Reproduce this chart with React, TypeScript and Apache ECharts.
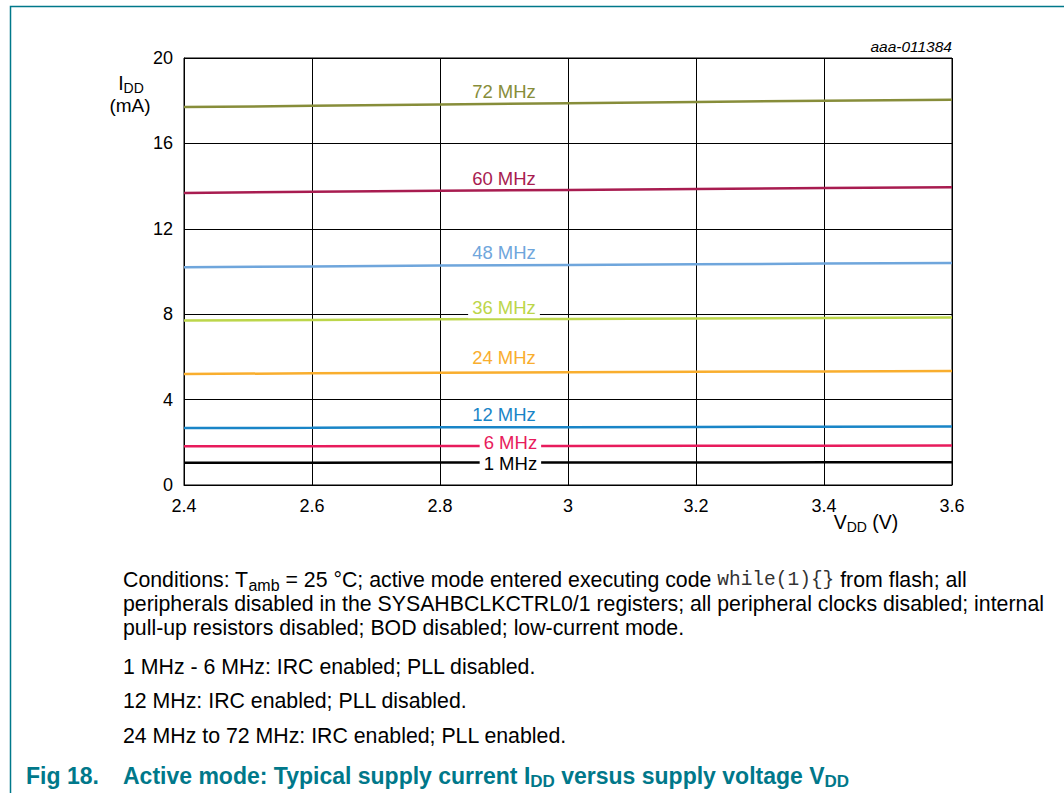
import React, { useEffect, useRef } from "react";
import * as echarts from "echarts";

const vdd = [2.4, 2.6, 2.8, 3.0, 3.2, 3.4, 3.6];
const xTicks = ["2.4", "2.6", "2.8", "3", "3.2", "3.4", "3.6"];
const yTicks = [0, 4, 8, 12, 16, 20];

const freqNames = ["72 MHz", "60 MHz", "48 MHz", "36 MHz", "24 MHz", "12 MHz", "6 MHz", "1 MHz"];
const idd72 = [17.7, 17.76, 17.82, 17.88, 17.94, 18.0, 18.05];
const idd60 = [13.68, 13.73, 13.78, 13.82, 13.87, 13.91, 13.95];
const idd48 = [10.2, 10.24, 10.28, 10.31, 10.34, 10.37, 10.4];
const idd36 = [7.7, 7.73, 7.76, 7.78, 7.8, 7.82, 7.84];
const idd24 = [5.2, 5.23, 5.26, 5.28, 5.3, 5.32, 5.34];
const idd12 = [2.67, 2.68, 2.7, 2.71, 2.72, 2.73, 2.74];
const idd6 = [1.82, 1.82, 1.83, 1.83, 1.84, 1.84, 1.85];
const idd1 = [1.04, 1.04, 1.05, 1.05, 1.05, 1.06, 1.06];
const seriesValues = [idd72, idd60, idd48, idd36, idd24, idd12, idd6, idd1];
const colors = ["#878d3a", "#a81c50", "#6fa6dc", "#bcd64a", "#f9ae2e", "#1985c7", "#e81b5c", "#000000"];
// label anchor positions (data coords)
const labelX = [2.9, 2.9, 2.9, 2.9, 2.9, 2.9, 2.91, 2.91];
const labelY = [18.42, 14.35, 10.88, 8.3, 5.95, 3.28, 1.97, 1.0];
const labelBg = [false, false, false, true, false, false, true, true];

const FONT = "'Liberation Sans', Arial, Helvetica, sans-serif";
const MONO = "'Liberation Mono', 'Courier New', monospace";
const TEAL = "#00788a";

export default function App() {
  const ref = useRef<HTMLDivElement>(null);
  useEffect(() => {
    document.body.style.margin = "0";
    const chart = echarts.init(ref.current!, null, { renderer: "svg" });
    const series: any[] = seriesValues.map((vals, i) => ({
      type: "line",
      name: freqNames[i],
      data: vals.map((v, j) => [vdd[j], v]),
      showSymbol: false,
      symbol: "none",
      lineStyle: { color: colors[i], width: 2.5 },
      z: 3,
      markPoint: {
        symbol: "rect",
        symbolSize: 0,
        silent: true,
        data: [
          {
            coord: [labelX[i], labelY[i]],
            label: {
              show: true,
              position: "inside",
              formatter: freqNames[i],
              color: colors[i],
              fontFamily: FONT,
              fontSize: 18.5,
              backgroundColor: labelBg[i] ? "#ffffff" : "transparent",
              padding: labelBg[i] ? [1, 4, 1, 4] : 0,
            },
          },
        ],
      },
    }));

    const P = 21.3;
    const textBase = { fontFamily: FONT, fontSize: P, fill: "#000" };
    const rich = {
      a: { fontFamily: FONT, fontSize: P, fill: "#000" },
      s: { fontFamily: FONT, fontSize: 16, fill: "#000", padding: [10, 0, 0, 0] },
      t: { fontFamily: FONT, fontSize: 23, fontWeight: "bold", fill: TEAL },
      ts: { fontFamily: FONT, fontSize: 17, fontWeight: "bold", fill: TEAL, padding: [10, 0, 0, 0] },
      y: { fontFamily: FONT, fontSize: 19.5, fill: "#000" },
      ys: { fontFamily: FONT, fontSize: 14, fill: "#000", padding: [9, 0, 0, 0] },
    };

    const graphic: any[] = [
      {
        type: "rect",
        shape: { x: 10.5, y: 6.5, width: 1200, height: 1000 },
        style: { fill: "none", stroke: TEAL, lineWidth: 1.5 },
        silent: true,
      },
      {
        type: "text",
        x: 952,
        y: 46,
        style: { text: "aaa-011384", fontFamily: FONT, fontSize: 15.5, fontStyle: "italic", fill: "#000", align: "right", verticalAlign: "middle" },
      },
      {
        type: "text",
        x: 131,
        y: 83,
        style: { text: "{y|I}{ys|DD}", rich, align: "center", verticalAlign: "middle" },
      },
      {
        type: "text",
        x: 130,
        y: 105,
        style: { text: "(mA)", fontFamily: FONT, fontSize: 19, fill: "#000", align: "center", verticalAlign: "middle" },
      },
      {
        type: "text",
        x: 866,
        y: 522,
        style: { text: "{y|V}{ys|DD}{y| (V)}", rich, align: "center", verticalAlign: "middle" },
      },
      {
        type: "text",
        x: 123,
        y: 580,
        style: {
          text: "{a|Conditions: T}{s|amb}{a| = 25 °C; active mode entered executing code }while(1){}{a| from flash; all}",
          rich,
          fontFamily: MONO,
          fontSize: 19.5,
          fill: "#333",
          verticalAlign: "middle",
        },
      },
      {
        type: "text",
        x: 123,
        y: 604,
        style: { text: "peripherals disabled in the SYSAHBCLKCTRL0/1 registers; all peripheral clocks disabled; internal", ...textBase, verticalAlign: "middle" },
      },
      {
        type: "text",
        x: 123,
        y: 628,
        style: { text: "pull-up resistors disabled; BOD disabled; low-current mode.", ...textBase, verticalAlign: "middle" },
      },
      {
        type: "text",
        x: 123,
        y: 667,
        style: { text: "1 MHz - 6 MHz: IRC enabled; PLL disabled.", ...textBase, verticalAlign: "middle" },
      },
      {
        type: "text",
        x: 123,
        y: 701,
        style: { text: "12 MHz: IRC enabled; PLL disabled.", ...textBase, verticalAlign: "middle" },
      },
      {
        type: "text",
        x: 123,
        y: 736,
        style: { text: "24 MHz to 72 MHz: IRC enabled; PLL enabled.", ...textBase, verticalAlign: "middle" },
      },
      {
        type: "text",
        x: 26,
        y: 776,
        style: { text: "Fig 18.", fontFamily: FONT, fontSize: 23, fontWeight: "bold", fill: TEAL, verticalAlign: "middle" },
      },
      {
        type: "text",
        x: 123,
        y: 776,
        style: {
          text: "{t|Active mode: Typical supply current I}{ts|DD}{t| versus supply voltage V}{ts|DD}",
          rich,
          verticalAlign: "middle",
        },
      },
    ];

    chart.setOption({
      animation: false,
      grid: { left: 184, right: 112, top: 58, bottom: 308, show: true, borderColor: "#000", borderWidth: 1, containLabel: false },
      xAxis: {
        type: "value",
        min: 2.4,
        max: 3.6,
        interval: 0.2,
        axisLine: { show: true, onZero: false, lineStyle: { color: "#000", width: 1 } },
        axisTick: { show: false },
        splitLine: { show: true, lineStyle: { color: "#000", width: 1 } },
        axisLabel: {
          color: "#000",
          fontFamily: FONT,
          fontSize: 18,
          margin: 12,
          formatter: (v: number) => {
            const idx = Math.round((v - 2.4) / 0.2);
            return xTicks[idx] ?? "";
          },
        },
      },
      yAxis: {
        type: "value",
        min: yTicks[0],
        max: yTicks[yTicks.length - 1],
        interval: 4,
        axisLine: { show: true, lineStyle: { color: "#000", width: 1 } },
        axisTick: { show: false },
        splitLine: { show: true, lineStyle: { color: "#000", width: 1 } },
        axisLabel: { color: "#000", fontFamily: FONT, fontSize: 18, margin: 11 },
      },
      series,
      graphic,
    });
    return () => chart.dispose();
  }, []);
  return <div ref={ref} style={{ width: 1064, height: 793 }} />;
}
